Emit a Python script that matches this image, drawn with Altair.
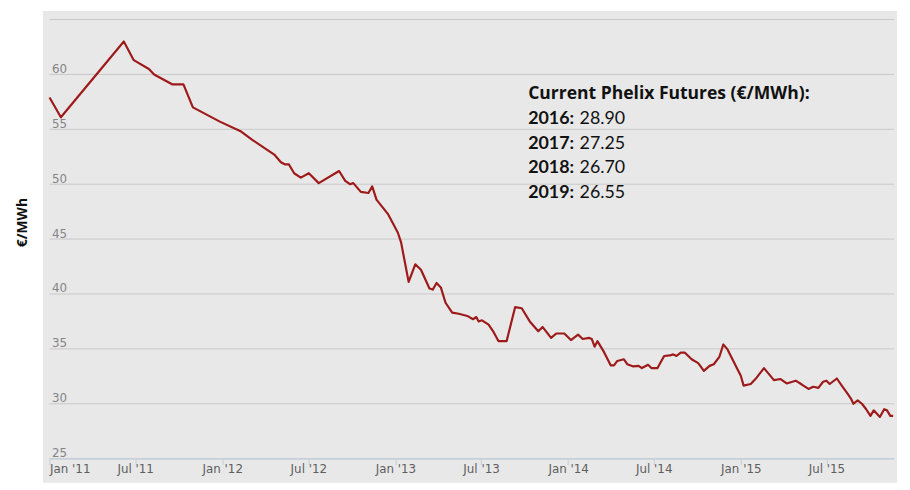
import altair as alt
import pandas as pd

# ---- data ----
dates = [
    "2011-01-01", "2011-01-25", "2011-06-07", "2011-06-28", "2011-07-30", "2011-08-10",
    "2011-09-17", "2011-10-11", "2011-10-31", "2011-12-27", "2012-02-10", "2012-03-06",
    "2012-04-20", "2012-05-04", "2012-05-13", "2012-05-21", "2012-06-01", "2012-06-15",
    "2012-07-02", "2012-07-23", "2012-09-04", "2012-09-17", "2012-09-27", "2012-10-04",
    "2012-10-20", "2012-11-05", "2012-11-13", "2012-11-22", "2012-12-16", "2013-01-06",
    "2013-01-13", "2013-01-29", "2013-02-12", "2013-02-24", "2013-03-14", "2013-03-21",
    "2013-03-29", "2013-04-07", "2013-04-17", "2013-05-01", "2013-05-15", "2013-06-02",
    "2013-06-14", "2013-06-21", "2013-06-26", "2013-07-03", "2013-07-17", "2013-07-28",
    "2013-08-07", "2013-08-24", "2013-09-11", "2013-09-25", "2013-10-12", "2013-10-30",
    "2013-11-08", "2013-11-26", "2013-12-07", "2013-12-24", "2014-01-07", "2014-01-22",
    "2014-02-01", "2014-02-14", "2014-02-20", "2014-02-26", "2014-03-04", "2014-03-18",
    "2014-04-01", "2014-04-08", "2014-04-15", "2014-04-29", "2014-05-06", "2014-05-19",
    "2014-05-30", "2014-06-06", "2014-06-19", "2014-06-26", "2014-07-09", "2014-07-23",
    "2014-08-04", "2014-08-11", "2014-08-18", "2014-08-27", "2014-09-05", "2014-09-19",
    "2014-10-03", "2014-10-15", "2014-10-27", "2014-11-05", "2014-11-17", "2014-11-25",
    "2014-12-04", "2014-12-25", "2015-01-01", "2015-01-07", "2015-01-22", "2015-02-01",
    "2015-02-19", "2015-03-12", "2015-03-26", "2015-04-08", "2015-04-27", "2015-05-10",
    "2015-05-24", "2015-06-03", "2015-06-14", "2015-06-24", "2015-07-01", "2015-07-08",
    "2015-07-23", "2015-08-05", "2015-08-15", "2015-08-22", "2015-08-27", "2015-09-05",
    "2015-09-14", "2015-09-23", "2015-10-02", "2015-10-09", "2015-10-22", "2015-10-31",
    "2015-11-06", "2015-11-13", "2015-11-19",
]
prices = [
    57.9, 56.1, 63.0, 61.3, 60.5, 60.0,
    59.1, 59.1, 57.0, 55.7, 54.8, 54.0,
    52.7, 52.0, 51.8, 51.8, 51.0, 50.6,
    51.0, 50.1, 51.2, 50.3, 50.0, 50.1,
    49.3, 49.2, 49.8, 48.6, 47.3, 45.6,
    44.7, 41.1, 42.7, 42.2, 40.5, 40.4,
    41.0, 40.6, 39.2, 38.3, 38.2, 38.0,
    37.7, 37.9, 37.5, 37.6, 37.2, 36.5,
    35.7, 35.7, 38.8, 38.7, 37.5, 36.6,
    37.0, 36.0, 36.4, 36.4, 35.8, 36.3,
    35.9, 36.0, 35.9, 35.2, 35.7, 34.7,
    33.5, 33.5, 33.9, 34.05, 33.6, 33.4,
    33.45, 33.25, 33.55, 33.25, 33.25, 34.35,
    34.4, 34.5, 34.35, 34.65, 34.65, 34.05,
    33.7, 33.0, 33.45, 33.6, 34.3, 35.4,
    34.95, 33.15, 32.55, 31.65, 31.8, 32.25,
    33.25, 32.15, 32.25, 31.85, 32.1, 31.75,
    31.35, 31.55, 31.45, 32.0, 32.1, 31.8,
    32.3, 31.5, 30.9, 30.45, 30.0, 30.3,
    30.0, 29.5, 28.9, 29.4, 28.8, 29.5,
    29.4, 28.9, 28.9,
]
x_tick_years = [2011, 2011, 2012, 2012, 2013, 2013, 2014, 2014, 2015, 2015]
x_tick_months = [1, 7, 1, 7, 1, 7, 1, 7, 1, 7]
y_ticks = [25, 30, 35, 40, 45, 50, 55, 60, 65]
y_title = "€/MWh"
note_title = "Current Phelix Futures (€/MWh):"
fut_years = ["2016:", "2017:", "2018:", "2019:"]
fut_prices = ["28.90", "27.25", "26.70", "26.55"]

# ---- layout ----
W, H = 854, 444
GRAY = "#e8e8e8"
LINE = "#9e1a1a"
AXIS_FONT = "DejaVu Sans"
NOTE_FONT = "Lato"
NOTE_X = 484
VAL_X = 536

df = pd.DataFrame({"date": dates, "price": prices})
x_scale = alt.Scale(domain=[alt.DateTime(year=2011, month=1, date=1),
                            alt.DateTime(year=2015, month=11, date=21)])
y_scale = alt.Scale(domain=[25, 65], nice=False, zero=False)

x_axis = alt.Axis(
    values=[alt.DateTime(year=y, month=m, date=1) for y, m in zip(x_tick_years, x_tick_months)],
    format="%b '%y", labelFlush=True, labelOverlap=False, grid=False, title=None,
    domainColor="#c0d0e0", tickColor="#c0d0e0", tickSize=6, labelPadding=-1,
    labelFont=AXIS_FONT, labelFontSize=12, labelColor="#5e5e5e", zindex=1,
)
y_axis = alt.Axis(
    values=y_ticks, grid=False, ticks=False, tickSize=0, domain=False, title=None,
    labelAlign="left", labelPadding=-2, labelBaseline="alphabetic", labelOffset=-2,
    labelExpr="datum.value >= 65 ? '' : datum.label",
    labelFont=AXIS_FONT, labelFontSize=12, labelColor="#858585", zindex=1,
)

bg = alt.Chart(pd.DataFrame({"k": [0]})).mark_rect(color=GRAY).encode(
    x=alt.value(-6.7), x2=alt.value(W + 3), y=alt.value(-8.7), y2=alt.value(H + 24.5)
)

grid = alt.Chart(pd.DataFrame({"v": y_ticks})).mark_rule(color="#c8c8c8", strokeWidth=1).encode(
    y=alt.Y("v:Q", scale=y_scale, axis=y_axis),
    x=alt.value(0), x2=alt.value(W),
)

line = alt.Chart(df).mark_line(color=LINE, strokeWidth=2.2, strokeJoin="round").encode(
    x=alt.X("date:T", scale=x_scale, axis=x_axis),
    y=alt.Y("price:Q", scale=y_scale, axis=y_axis),
)

ytitle = alt.Chart(pd.DataFrame({"t": [y_title]})).mark_text(
    font="Open Sans", fontSize=14, fontWeight="bold", color="#111111",
    angle=270, align="center", baseline="middle",
).encode(text="t:N", x=alt.value(-26.5), y=alt.value(205.3))

note_head = alt.Chart(pd.DataFrame({"t": [note_title]})).mark_text(
    font="Open Sans", fontSize=17.7, fontWeight="bold", color="#111111",
    align="left", baseline="alphabetic",
).encode(text="t:N", x=alt.value(NOTE_X), y=alt.value(80))

fut = pd.DataFrame({"yr": fut_years, "val": fut_prices, "i": list(range(len(fut_years)))})
fut_y = alt.Chart(fut).transform_calculate(py="105.6 + 25 * datum.i").mark_text(
    font=NOTE_FONT, fontSize=18, fontWeight="bold", color="#111111",
    align="left", baseline="alphabetic",
).encode(text="yr:N", x=alt.value(NOTE_X), y=alt.Y("py:Q", scale=None))
fut_v = alt.Chart(fut).transform_calculate(py="105.6 + 25 * datum.i").mark_text(
    font=NOTE_FONT, fontSize=18, fontWeight="normal", color="#111111",
    align="left", baseline="alphabetic",
).encode(text="val:N", x=alt.value(VAL_X), y=alt.Y("py:Q", scale=None))

chart = alt.layer(bg, grid, line, ytitle, note_head, fut_y, fut_v).properties(
    width=W, height=H,
    padding={"left": 8, "top": 0, "right": 5, "bottom": 0},
    background="white",
).configure_view(stroke=None)

chart.save("out.html", embed_options={"renderer": "svg", "actions": False})
